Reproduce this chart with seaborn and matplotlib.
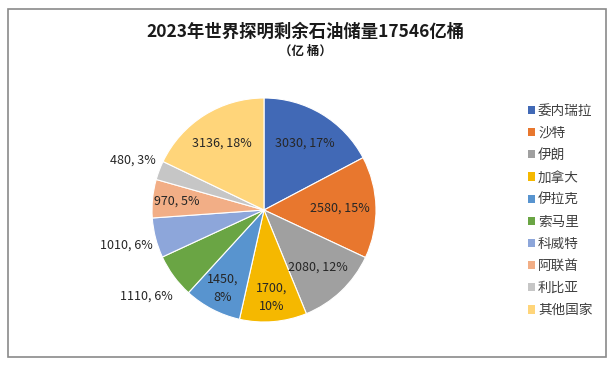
import matplotlib
matplotlib.use("Agg")
import matplotlib.pyplot as plt
import seaborn as sns
import numpy as np
from matplotlib.patches import Rectangle, Patch

sns.set_theme(style="white")
plt.rcParams['font.family'] = ['Noto Sans CJK SC', 'DejaVu Sans']

# ---- data ----
countries = ["委内瑞拉", "沙特", "伊朗", "加拿大", "伊拉克", "索马里", "科威特", "阿联酋", "利比亚", "其他国家"]
reserves = [3030, 2580, 2080, 1700, 1450, 1110, 1010, 970, 480, 3136]
pct_labels = [17, 15, 12, 10, 8, 6, 6, 5, 3, 18]
title = "2023年世界探明剩余石油储量17546亿桶"
subtitle = "（亿 桶）"

# ---- style ----
colors = ["#4169B6", "#E8772E", "#A0A0A0", "#F5B800", "#5894CF",
          "#6AA544", "#8DA6DA", "#F2AE86", "#C6C6C6", "#FFD57A"]
label_r = [0.70, 0.68, 0.70, 0.78, 0.79, 1.30, 1.27, 0.78, 1.25, 0.70]
label_sep = [" ", " ", " ", "\n", "\n", " ", " ", " ", " ", " "]

W, H = 615, 366
fig = plt.figure(figsize=(W / 100, H / 100), dpi=100)
fig.patch.set_facecolor("white")

# outer border
fig.add_artist(Rectangle((8 / W, (H - 357) / H), (606 - 8) / W, (357 - 9) / H,
                         transform=fig.transFigure, fill=False,
                         edgecolor="#8a8a8a", lw=1.2))

cx, cy, R = 264, 210, 112
ax = fig.add_axes([(cx - R) / W, (H - cy - R) / H, 2 * R / W, 2 * R / H])
wedges, _ = ax.pie(reserves, colors=colors, startangle=90, counterclock=False,
                   radius=1.0, wedgeprops=dict(edgecolor="white", linewidth=0.8))
ax.set_xlim(-1, 1)
ax.set_ylim(-1, 1)
ax.set_aspect("equal")
ax.axis("off")

for w, v, p, r, s in zip(wedges, reserves, pct_labels, label_r, label_sep):
    ang = np.deg2rad((w.theta1 + w.theta2) / 2)
    x, y = r * np.cos(ang), r * np.sin(ang)
    ax.text(x, y, f"{v},{s}{p}%", ha="center", va="center", fontsize=9,
            color="#262626", linespacing=1.5)

fig.text(305 / W, 1 - 32 / H, title, ha="center", va="center",
         fontsize=12.5, fontweight="bold", color="#1a1a1a")
fig.text(305 / W, 1 - 51 / H, subtitle, ha="center", va="center",
         fontsize=9, fontweight="bold", color="#1a1a1a")

handles = [Patch(facecolor=c, edgecolor="none") for c in colors]
fig.legend(handles, countries, loc="upper left",
           bbox_to_anchor=(521 / W, 1 - 97 / H), frameon=False,
           fontsize=9.8, handlelength=0.55, handleheight=0.55,
           handletextpad=0.2, labelspacing=0.6, labelcolor="#404040",
           borderpad=0)

fig.savefig("out.png", dpi=100, facecolor="white")
